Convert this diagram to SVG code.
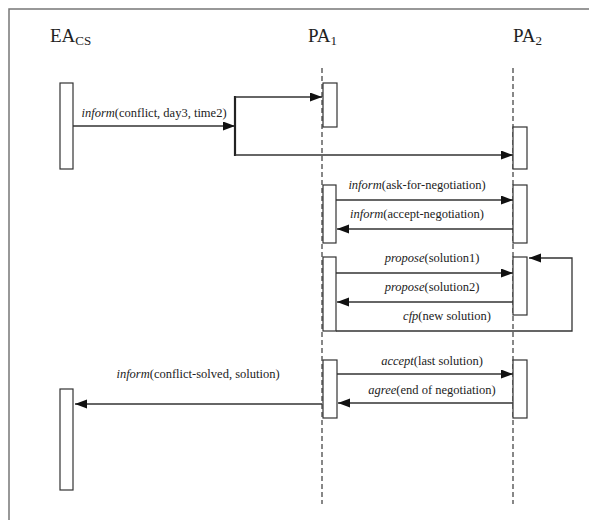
<svg xmlns="http://www.w3.org/2000/svg" width="589" height="520" viewBox="0 0 589 520">
<style>
.t{font-family:"Liberation Serif","Times New Roman",serif;fill:#222}
.ttl{font-size:19px}
.sub{font-size:13px}
.lbl{font-size:12.5px;text-anchor:middle}
.it{font-style:italic}
.life{stroke:#555;stroke-width:1.4;stroke-dasharray:5,3;fill:none}
.box{fill:#fff;stroke:#333;stroke-width:1.2}
.msg{stroke:#333;stroke-width:1.3;fill:none}
</style>
<defs>
<marker id="ah" markerUnits="userSpaceOnUse" markerWidth="13" markerHeight="10" refX="12" refY="4.5" orient="auto">
<path d="M0,0 L12,4.5 L0,9 z" fill="#111"/>
</marker>
</defs>
<rect x="0" y="0" width="589" height="520" fill="#fff"/>
<rect x="9" y="9" width="620" height="560" fill="none" stroke="#777" stroke-width="1.5"/>

<g id="titles">
<text class="t ttl" x="50" y="42">EA<tspan class="sub" dy="3">CS</tspan></text>
<text class="t ttl" x="308" y="42">PA<tspan class="sub" dy="3">1</tspan></text>
<text class="t ttl" x="513" y="42">PA<tspan class="sub" dy="3">2</tspan></text>
</g>

<g id="lifelines">
<line class="life" x1="322" y1="68" x2="322" y2="504"/>
<line class="life" x1="513" y1="68" x2="513" y2="504"/>
</g>

<g id="EA_CS">
<rect class="box" x="60" y="83" width="13" height="86"/>
<rect class="box" x="60" y="389" width="13" height="101"/>
</g>
<g id="PA1">
<rect class="box" x="323" y="83" width="14" height="44"/>
<rect class="box" x="323" y="185" width="13" height="58"/>
<rect class="box" x="323" y="257" width="13" height="74"/>
<rect class="box" x="323" y="360" width="14" height="58"/>
</g>
<g id="PA2">
<rect class="box" x="513" y="127" width="14" height="42"/>
<rect class="box" x="513" y="185" width="14" height="58"/>
<rect class="box" x="513" y="257" width="14" height="58"/>
<rect class="box" x="513" y="360" width="14" height="58"/>
</g>

<g id="connectors">
<line class="msg" x1="73" y1="126" x2="235" y2="126" marker-end="url(#ah)"/>
<line x1="235" y1="96" x2="235" y2="156" stroke="#222" stroke-width="2.2"/>
<line class="msg" x1="235" y1="97" x2="322" y2="97" marker-end="url(#ah)"/>
<line class="msg" x1="235" y1="155" x2="513" y2="155" marker-end="url(#ah)"/>
<line class="msg" x1="336" y1="200" x2="513" y2="200" marker-end="url(#ah)"/>
<line class="msg" x1="513" y1="229" x2="337" y2="229" marker-end="url(#ah)"/>
<line class="msg" x1="336" y1="273" x2="513" y2="273" marker-end="url(#ah)"/>
<line class="msg" x1="513" y1="302" x2="337" y2="302" marker-end="url(#ah)"/>
<polyline class="msg" points="336,331 572,331 572,258 529,258" marker-end="url(#ah)"/>
<line class="msg" x1="337" y1="374" x2="513" y2="374" marker-end="url(#ah)"/>
<line class="msg" x1="513" y1="403" x2="338" y2="403" marker-end="url(#ah)"/>
<line class="msg" x1="322" y1="404" x2="75" y2="404" marker-end="url(#ah)"/>
</g>

<g id="labels">
<text class="t lbl" x="154" y="117"><tspan class="it">inform</tspan>(conflict, day3, time2)</text>
<text class="t lbl" x="417" y="189"><tspan class="it">inform</tspan>(ask-for-negotiation)</text>
<text class="t lbl" x="417" y="218"><tspan class="it">inform</tspan>(accept-negotiation)</text>
<text class="t lbl" x="432" y="262"><tspan class="it">propose</tspan>(solution1)</text>
<text class="t lbl" x="432" y="291"><tspan class="it">propose</tspan>(solution2)</text>
<text class="t lbl" x="447" y="320"><tspan class="it">cfp</tspan>(new solution)</text>
<text class="t lbl" x="432" y="365"><tspan class="it">accept</tspan>(last solution)</text>
<text class="t lbl" x="432" y="394"><tspan class="it">agree</tspan>(end of negotiation)</text>
<text class="t lbl" x="198" y="378"><tspan class="it">inform</tspan>(conflict-solved, solution)</text>
</g>
</svg>
